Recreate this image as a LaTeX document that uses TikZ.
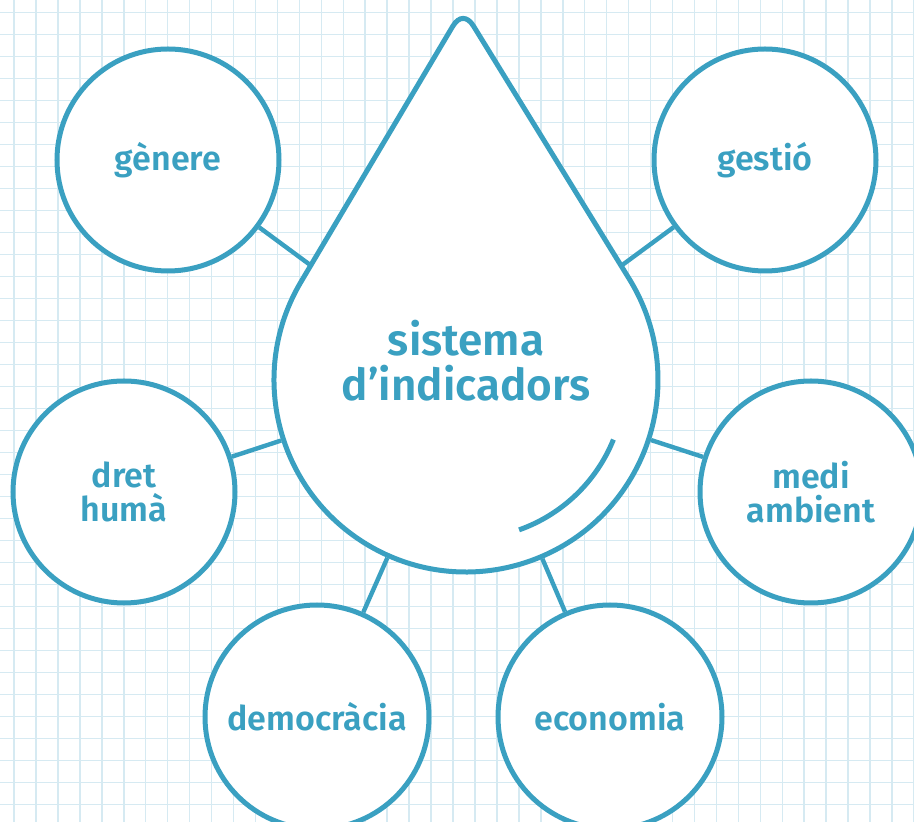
\documentclass[tikz,border=0pt]{standalone}
\usepackage{fontspec}
\setmainfont{Fira Sans}[UprightFont=* SemiBold]
\usetikzlibrary{calc,positioning}
\definecolor{water}{RGB}{58,160,193}
\definecolor{gridblue}{RGB}{214,234,242}

\begin{document}
\begin{tikzpicture}[x=1pt,y=1pt]
    \tikzstyle{topic}=[circle,draw=water,line width=5pt,fill=white,text=water,
    inner sep=0pt,align=center,minimum size=222pt,font=\fontsize{34}{34}\selectfont]
    \tikzstyle{link}=[draw=water,line width=4.4pt]
    \tikzstyle{paper}=[gridblue,line width=1.5pt]

    \useasboundingbox (0,0) rectangle (914,822);
    \fill[white] (0,0) rectangle (914,822);

    % squared paper
    \foreach \x in {0,...,41}
        \draw[paper] (14+21.95*\x,0) -- (14+21.95*\x,822);
    \foreach \y in {0,...,36}
        \draw[paper] (0,809.7-22*\y) -- (914,809.7-22*\y);

    % the drop
    \node[circle,inner sep=0pt,outer sep=2.5pt,minimum size=384pt](drop) at (466,442){};
    \coordinate (tip) at (463,813);
    \coordinate (right) at ($(drop.center)+(31.7:192)$);
    \coordinate (left) at ($(drop.center)+(149.3:192)$);
    \draw[draw=water,fill=white,line width=5pt]
        (left) arc[start angle=149.3,end angle=391.7,radius=192]
        -- ($(tip)!20pt!(right)$)
        .. controls ($(tip)!8pt!(right)$) and ($(tip)!8pt!(left)$) .. ($(tip)!20pt!(left)$)
        -- cycle;
    \draw[water,line width=5pt] ($(drop.center)+(-70.5:159)$)
        arc[start angle=-70.5,end angle=-22,radius=159];
    \node[text=water,align=center,font=\fontsize{44}{45}\selectfont](title)
        at (466,461){sistema\\d’indicadors};

    % topics
    \node[topic](genere) at (168,662){gènere};
    \node[topic](gestio) at (765,662){gestió};
    \node[topic](dret) at (124,330){dret\\humà};
    \node[topic](medi) at (811,330){medi\\ambient};
    \node[topic,minimum size=224pt](demo) at (317,105){democràcia};
    \node[topic,minimum size=224pt](econ) at (610,105){economia};

    \draw[link] (genere) -- (drop);
    \draw[link] (gestio) -- (drop);
    \draw[link] (dret) -- (drop);
    \draw[link] (medi) -- (drop);
    \draw[link] (demo) -- (drop);
    \draw[link] (econ) -- (drop);
\end{tikzpicture}
\end{document}
